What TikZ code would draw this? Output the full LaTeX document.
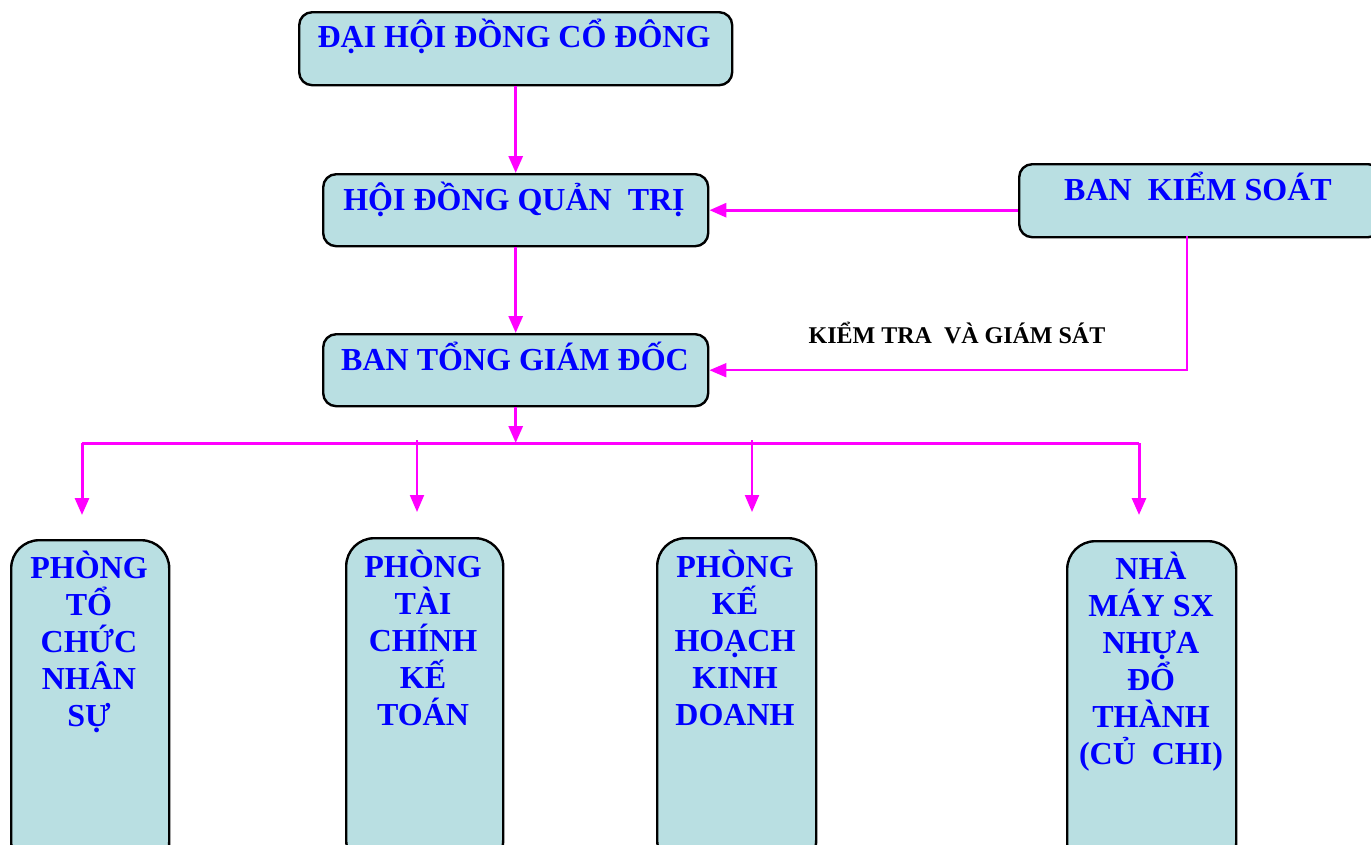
\documentclass[tikz,border=0pt]{standalone}
\usepackage{fontspec}
\setmainfont{Liberation Serif}
\usetikzlibrary{arrows.meta}
\definecolor{boxfill}{RGB}{185,223,226}
\definecolor{linkcol}{RGB}{255,0,255}
\definecolor{textblue}{RGB}{0,0,255}
\newcommand{\firststrut}{\rule{0pt}{34pt}}
\tikzset{
  box/.style={draw=black, line width=2.4pt, fill=boxfill, rounded corners=13pt,
    inner sep=0pt, anchor=north west},
  tallbox/.style={box, rounded corners=28pt},
  title/.style={text=textblue, font=\fontsize{32}{37}\selectfont\bfseries,
    inner sep=0pt, anchor=base},
  lines/.style={title, align=center, anchor=north},
  note/.style={text=black, font=\fontsize{24}{28}\selectfont\bfseries,
    inner sep=0pt, anchor=base},
  link/.style={draw=linkcol, line width=3pt},
  thinlink/.style={draw=linkcol, line width=2pt},
  tip/.style={-{Triangle[length=17pt,width=14pt]}},
}
\begin{document}
\begin{tikzpicture}[x=1pt, y=-1pt]
\useasboundingbox (0,0) rectangle (1371,844);
\clip (0,0) rectangle (1371,844);

% management boxes
\node[box, minimum width=433pt, minimum height=73pt] (dhcd) at (298,11) {};
\node[box, minimum width=385pt, minimum height=72pt] (hdqt) at (322,173) {};
\node[box, minimum width=385pt, minimum height=72pt] (btgd) at (322,333) {};
\node[box, minimum width=362pt, minimum height=73pt] (bks) at (1018,163) {};

\node[title] (dhcd-t) at (514,47) {ĐẠI HỘI ĐỒNG CỔ ĐÔNG};
\node[title] (hdqt-t) at (514,210) {HỘI ĐỒNG QUẢN\ \ TRỊ};
\node[title] (btgd-t) at (515,370) {BAN TỔNG GIÁM ĐỐC};
\node[title] (bks-t) at (1198,200) {BAN\ \ KIỂM SOÁT};

% departments
\node[tallbox, minimum width=158pt, minimum height=330pt] (p1) at (10,539) {};
\node[tallbox, minimum width=157pt, minimum height=330pt] (p2) at (345,537) {};
\node[tallbox, minimum width=159pt, minimum height=330pt] (p3) at (656,537) {};
\node[tallbox, minimum width=169pt, minimum height=330pt] (p4) at (1066,540) {};

\node[lines] (p1-t) at (89,544) {\firststrut PHÒNG\\TỔ\\CHỨC\\NHÂN\\SỰ};
\node[lines] (p2-t) at (423,543) {\firststrut PHÒNG\\TÀI\\CHÍNH\\KẾ\\TOÁN};
\node[lines] (p3-t) at (735,543) {\firststrut PHÒNG\\KẾ\\HOẠCH\\KINH\\DOANH};
\node[lines] (p4-t) at (1151,545) {\firststrut NHÀ\\MÁY SX\\NHỰA\\ĐỔ\\THÀNH\\(CỦ\ \ CHI)};

% supervision label
\node[note] (ktgs) at (957,343) {KIỂM TRA\ \ VÀ GIÁM SÁT};

% connector end points
\coordinate (busL) at (82,443);
\coordinate (busR) at (1139,443);
\coordinate (s2) at (417,440);
\coordinate (s3) at (752,440);
\coordinate (e1) at (82,515);
\coordinate (e2) at (417,512);
\coordinate (e3) at (752,512);
\coordinate (e4) at (1139,515);
\coordinate (ksdrop) at (1187,236);

% connectors
\draw[link, tip] (dhcd.south) -- (hdqt.north);
\draw[link, tip] (hdqt.south) -- (btgd.north);
\draw[link, tip] (bks.west |- hdqt.east) -- (hdqt.east);
\draw[thinlink, tip] (ksdrop) |- (btgd.east);
\draw[link, tip] (btgd.south) -- (btgd.south |- busL);
\draw[link] (busL) -- (busR);
\draw[link, tip] (busL) -- (e1);
\draw[thinlink, tip] (s2) -- (e2);
\draw[thinlink, tip] (s3) -- (e3);
\draw[link, tip] (busR) -- (e4);
\end{tikzpicture}
\end{document}
